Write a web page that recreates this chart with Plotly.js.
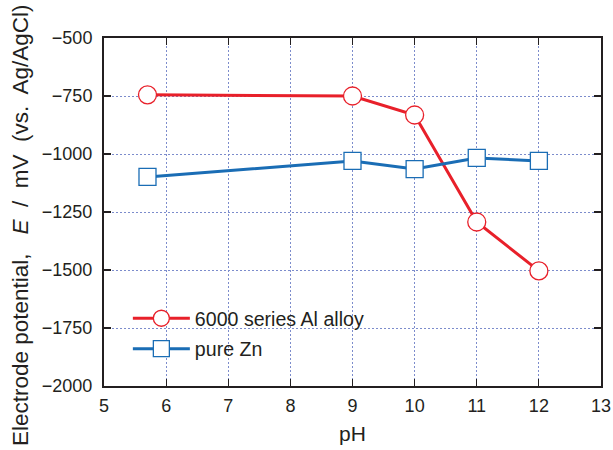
<!DOCTYPE html>
<html><head><meta charset="utf-8">
<script src="https://cdn.plot.ly/plotly-3.0.1.min.js"></script>
<style>body{margin:0;padding:0;background:#fff}#chart{width:613px;height:450px}</style>
</head><body><div id="chart"></div>
<script>
const pH = [5.7, 9, 10, 11, 12];
const alAlloy = [-745, -750, -832, -1293, -1504];
const pureZn = [-1099, -1030, -1065, -1017, -1030];
const seriesNames = ['6000 series Al alloy', 'pure Zn'];
const xTicks = [5, 6, 7, 8, 9, 10, 11, 12, 13];
const yTicks = [-500, -750, -1000, -1250, -1500, -1750, -2000];
const yTitle = 'Electrode potential,   <i>E</i>  /  mV  (vs.  Ag/AgCl)';

const traces = [
  {x: pH, y: alAlloy, name: seriesNames[0], legendgroup: 'a', type: 'scatter', mode: 'lines+markers',
   line: {color: '#e8202a', width: 3},
   marker: {symbol: 'circle', size: 18, color: '#ffffff', line: {color: '#e8202a', width: 1.3}}},
  {x: pH, y: pureZn, name: seriesNames[1], legendgroup: 'b', type: 'scatter', mode: 'lines+markers',
   line: {color: '#1a6db5', width: 3},
   marker: {symbol: 'square', size: 17, color: '#ffffff', line: {color: '#1a6db5', width: 1.3}}}
];

const axisCommon = {
  ticks: 'inside', ticklen: 7, tickcolor: '#231f20', tickwidth: 1.2,
  showline: true, linecolor: '#231f20', linewidth: 2, mirror: 'ticks',
  showgrid: true, gridcolor: '#7c8ccc', griddash: '2px,2px', gridwidth: 1,
  zeroline: false, tickfont: {size: 18}
};

const layout = {
  width: 613, height: 450,
  margin: {l: 104, r: 12, t: 38, b: 64},
  paper_bgcolor: '#ffffff', plot_bgcolor: '#ffffff',
  font: {family: 'Liberation Sans, Arial, sans-serif', color: '#231f20', size: 18},
  showlegend: true,
  legend: {x: 0.048, y: 0.25, xanchor: 'left', yanchor: 'top', bgcolor: 'rgba(255,255,255,0)',
           font: {size: 19.6}, itemwidth: 57, tracegroupgap: 2, traceorder: 'grouped'},
  xaxis: Object.assign({}, axisCommon, {
          range: [5, 13], tickvals: xTicks, ticktext: xTicks.map(String), ticklabelstandoff: 2,
          title: {text: 'pH', font: {size: 21}, standoff: 12}}),
  yaxis: Object.assign({}, axisCommon, {
          range: [-2000, -500], tickvals: yTicks, ticktext: yTicks.map(v => '\u2212' + Math.abs(v)),
          ticklabelstandoff: 6}),
  annotations: [{
    text: yTitle, textangle: -90, showarrow: false,
    xref: 'paper', yref: 'paper', x: (20 - 104) / 497, y: (386 - 226) / 348,
    xanchor: 'center', yanchor: 'middle', font: {size: 22.5, color: '#231f20'}
  }]
};

Plotly.newPlot('chart', traces, layout, {displayModeBar: false, staticPlot: true});
</script></body></html>
